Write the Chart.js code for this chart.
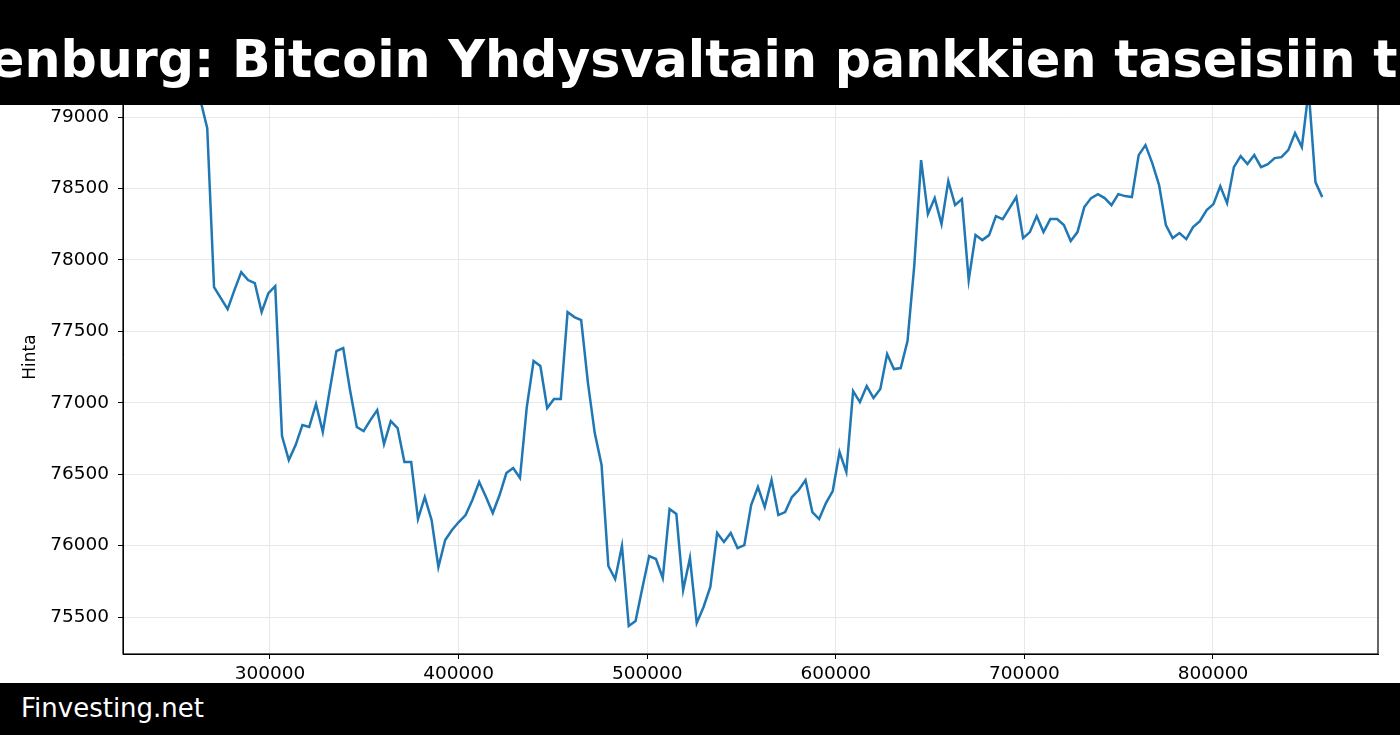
<!DOCTYPE html>
<html>
<head>
<meta charset="utf-8">
<script src="https://cdn.jsdelivr.net/npm/chart.js@4.4.1/dist/chart.umd.min.js"></script>
<style>
  html, body { margin: 0; padding: 0; background: #fff; }
  #wrap { position: relative; width: 1400px; height: 735px; overflow: hidden; }
  #title { position: absolute; left: 0; top: 0; width: 1400px; height: 105px; background: #000; overflow: hidden; }
  #title span { position: absolute; left: -10px; top: 30px; white-space: nowrap; color: #fff;
    font: bold 50.7px "DejaVu Sans", sans-serif; }
  #foot { position: absolute; left: 0; top: 683px; width: 1400px; height: 52px; background: #000;
    color: #fff; font: 26px "DejaVu Sans", sans-serif; }
  #foot span { position: absolute; left: 21px; top: 10px; }
</style>
</head>
<body>
<div id="wrap">
  <canvas id="chart" width="1400" height="735"></canvas>
  <div id="title"><span>enburg: Bitcoin Yhdysvaltain pankkien taseisiin tulossa</span></div>
  <div id="foot"><span>Finvesting.net</span></div>
</div>
<script>
// ── Data ───────────────────────────────────────────────
const X_START = 252300, X_STEP = 3605;
const PRICES = [
  79203, 79217, 79175, 79119, 78923, 77810, 77733, 77656, 77789, 77915,
  77859, 77838, 77635, 77768, 77817, 76767, 76599, 76704, 76844, 76830,
  76991, 76795, 77082, 77362, 77383, 77089, 76830, 76802, 76879, 76949,
  76711, 76872, 76823, 76585, 76585, 76186, 76340, 76179, 75850, 76039,
  76109, 76165, 76214, 76319, 76445, 76340, 76228, 76354, 76508, 76543,
  76473, 76970, 77292, 77257, 76963, 77026, 77026, 77635, 77600, 77579,
  77138, 76788, 76564, 75857, 75766, 75997, 75437, 75472, 75703, 75927,
  75906, 75773, 76256, 76221, 75689, 75913, 75458, 75570, 75710, 76088,
  76025, 76088, 75983, 76004, 76284, 76410, 76270, 76459, 76214, 76235,
  76340, 76389, 76459, 76235, 76186, 76298, 76382, 76655, 76515, 77082,
  77005, 77117, 77033, 77096, 77341, 77236, 77243, 77432, 77964, 78699,
  78321, 78433, 78251, 78552, 78384, 78426, 77859, 78174, 78139, 78174,
  78307, 78286, 78363, 78440, 78153, 78195, 78307, 78195, 78286, 78286,
  78244, 78132, 78195, 78370, 78433, 78461, 78433, 78384, 78461, 78447,
  78440, 78734, 78804, 78678, 78524, 78244, 78153, 78188, 78146, 78230,
  78272, 78349, 78391, 78517, 78398, 78650, 78727, 78671, 78734, 78650,
  78671, 78713, 78720, 78769, 78888, 78790, 79189, 78545, 78440
];
const X_TICKS = [300000, 400000, 500000, 600000, 700000, 800000];
const Y_TICKS = [75500, 76000, 76500, 77000, 77500, 78000, 78500, 79000];
const points = PRICES.map((v, i) => ({ x: X_START + i * X_STEP, y: v }));

const font = { family: "DejaVu Sans", size: 18.5 };

// frame around the plot area (top/right spines)
const frame = {
  id: "frame",
  afterDraw(c) {
    const a = c.chartArea, ctx = c.ctx;
    ctx.save();
    ctx.strokeStyle = "#000"; ctx.lineWidth = 1.2;
    ctx.strokeRect(a.left, a.top, a.right - a.left, a.bottom - a.top);
    ctx.restore();
  }
};

new Chart(document.getElementById("chart"), {
  type: "line",
  data: { datasets: [{
    data: points, borderColor: "#1f77b4", borderWidth: 2.5,
    pointRadius: 0, tension: 0, fill: false
  }]},
  options: {
    responsive: false, animation: false,
    layout: { padding: { top: 60, right: 22, left: 20, bottom: 0 } },
    plugins: { legend: { display: false }, tooltip: { enabled: false } },
    scales: {
      x: {
        type: "linear", min: 222060, max: 887500,
        afterBuildTicks: s => { s.ticks = X_TICKS.map(v => ({ value: v })); },
        afterFit: s => { s.height = 81; },
        grid: { color: "#e8e8e8", tickColor: "#000", tickLength: 5 },
        border: { color: "#000" },
        ticks: { color: "#000", font, padding: 4, autoSkip: false,
                 callback: v => String(v), maxRotation: 0 }
      },
      y: {
        min: 75241, max: 79400,
        afterBuildTicks: s => { s.ticks = Y_TICKS.map(v => ({ value: v })); },
        afterFit: s => { s.width = 103; },
        grid: { color: "#e8e8e8", tickColor: "#000", tickLength: 5 },
        border: { color: "#000" },
        title: { display: true, text: "Hinta", color: "#000", font: { family: "DejaVu Sans", size: 17 },
                 padding: { top: 0, bottom: 0 } },
        ticks: { color: "#000", font, padding: 9, autoSkip: false,
                 callback: v => String(v) }
      }
    }
  },
  plugins: [frame]
});
</script>
</body>
</html>
